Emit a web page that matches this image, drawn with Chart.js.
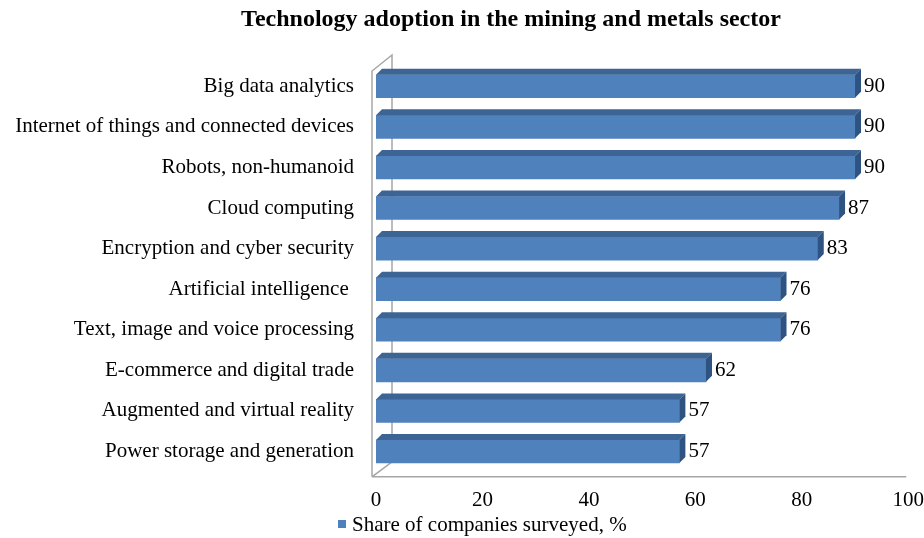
<!DOCTYPE html>
<html>
<head>
<meta charset="utf-8">
<script src="https://cdn.jsdelivr.net/npm/chart.js@4/dist/chart.umd.min.js"></script>
<style>
    html, body { margin: 0; padding: 0; background: #fff; }
    #wrap { width: 924px; height: 538px; position: relative; }
</style>
</head>
<body>
<div id="wrap"><canvas id="chart1"></canvas></div>
<script>
const categories = [
    'Big data analytics',
    'Internet of things and connected devices',
    'Robots, non-humanoid',
    'Cloud computing',
    'Encryption and cyber security',
    'Artificial intelligence ',
    'Text, image and voice processing',
    'E-commerce and digital trade',
    'Augmented and virtual reality',
    'Power storage and generation'
];
const shareValues = [90, 90, 90, 87, 83, 76, 76, 62, 57, 57];
const xTicks = [0, 20, 40, 60, 80, 100];
const chartTitle = 'Technology adoption in the mining and metals sector';
const seriesName = 'Share of companies surveyed, %';

const FONT = '"Liberation Serif", "Times New Roman", serif';
const BAR_COLOR = '#4f81bd';

// faux 3D: wall, bar tops/sides, value labels, title and legend
const fake3d = {
    id: 'fake3d',
    beforeDatasetsDraw(chart) {
        const ctx = chart.ctx;
        const a = chart.chartArea;
        const fx = a.left - 4;
        ctx.save();
        ctx.strokeStyle = '#a6a6a6';
        ctx.lineWidth = 1.5;
        ctx.beginPath();
        ctx.moveTo(fx, a.bottom + 5);
        ctx.lineTo(fx, a.top + 5);
        ctx.lineTo(fx + 20, a.top - 11);
        ctx.lineTo(fx + 20, a.bottom - 10);
        ctx.lineTo(fx, a.bottom + 5);
        ctx.moveTo(fx, a.bottom + 5);
        ctx.lineTo(a.right - 2, a.bottom + 5);
        ctx.stroke();
        ctx.restore();
    },
    afterDatasetsDraw(chart) {
        const ctx = chart.ctx;
        const meta = chart.getDatasetMeta(0);
        const dx = 6, dy = -6;
        ctx.save();
        meta.data.forEach((bar, i) => {
            const top = bar.y - bar.height / 2;
            const bot = bar.y + bar.height / 2;
            const l = bar.base, r = bar.x;
            ctx.fillStyle = '#3c6494';
            ctx.beginPath();
            ctx.moveTo(l, top);
            ctx.lineTo(l + dx, top + dy);
            ctx.lineTo(r + dx, top + dy);
            ctx.lineTo(r, top);
            ctx.closePath();
            ctx.fill();
            ctx.fillStyle = '#2f5380';
            ctx.beginPath();
            ctx.moveTo(r, top);
            ctx.lineTo(r + dx, top + dy);
            ctx.lineTo(r + dx, bot + dy);
            ctx.lineTo(r, bot);
            ctx.closePath();
            ctx.fill();

            ctx.fillStyle = '#000';
            ctx.font = '21px ' + FONT;
            ctx.textAlign = 'left';
            ctx.textBaseline = 'middle';
            ctx.fillText(String(shareValues[i]), r + dx + 3, bar.y);
        });

        ctx.font = 'bold 24px ' + FONT;
        ctx.textAlign = 'center';
        ctx.textBaseline = 'middle';
        ctx.fillStyle = '#000';
        ctx.fillText(chartTitle, 511, 20);

        // legend
        ctx.fillStyle = BAR_COLOR;
        ctx.fillRect(338, 520, 8, 8);
        ctx.fillStyle = '#000';
        ctx.font = '21px ' + FONT;
        ctx.textAlign = 'left';
        ctx.fillText(seriesName, 352, 525);
        ctx.restore();
    }
};

document.addEventListener('DOMContentLoaded', function () {
    const ctx1 = document.getElementById('chart1').getContext('2d');

    new Chart(ctx1, {
        type: 'bar',
        data: {
            labels: categories,
            datasets: [{
                label: seriesName,
                data: shareValues,
                backgroundColor: BAR_COLOR,
                borderWidth: 0,
                barThickness: 23
            }]
        },
        options: {
            indexAxis: 'y',
            responsive: true,
            maintainAspectRatio: false,
            animation: false,
            layout: { padding: { top: 66, left: 0, right: 0, bottom: 25 } },
            scales: {
                x: {
                    min: 0,
                    max: 100,
                    afterBuildTicks: (axis) => { axis.ticks = xTicks.map(v => ({ value: v })); },
                    grid: { display: false, drawTicks: true, tickLength: 16, tickColor: 'rgba(0,0,0,0)' },
                    border: { display: false },
                    ticks: { color: '#000', font: { family: FONT, size: 21 }, padding: 0 }
                },
                y: {
                    afterFit: (axis) => { axis.width = 376; },
                    grid: { display: false, drawTicks: false },
                    border: { display: false },
                    ticks: { color: '#000', font: { family: FONT, size: 21 }, padding: 22 }
                }
            },
            plugins: {
                legend: { display: false },
                title: { display: false },
                tooltip: { enabled: false }
            }
        },
        plugins: [fake3d]
    });
});
</script>
</body>
</html>
